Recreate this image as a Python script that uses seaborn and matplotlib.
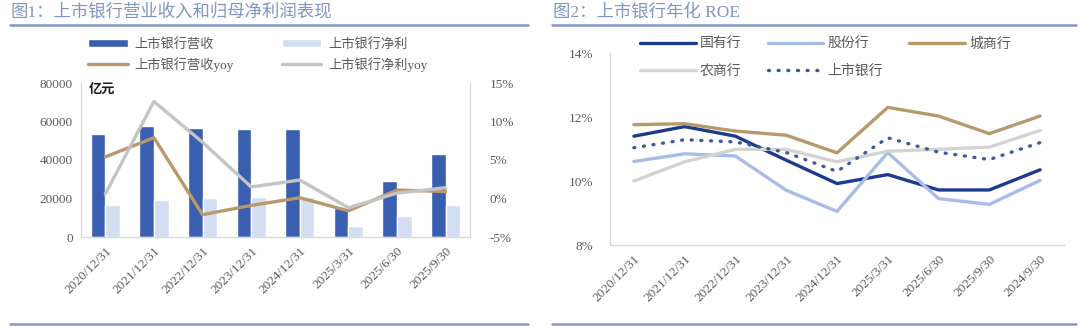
import numpy as np
import pandas as pd
import matplotlib
matplotlib.use("Agg")
import matplotlib.pyplot as plt
from matplotlib.lines import Line2D
import seaborn as sns

# ---------------- data ----------------
dates1 = ["2020/12/31", "2021/12/31", "2022/12/31", "2023/12/31", "2024/12/31",
          "2025/3/31", "2025/6/30", "2025/9/30"]
revenue = [53400, 57700, 56800, 56300, 56300, 14900, 29100, 43000]       # 亿元
net_profit = [16600, 19200, 20500, 20900, 20900, 5500, 11000, 16600]     # 亿元
revenue_yoy = [5.4, 7.9, -2.1, -0.9, 0.1, -1.6, 1.1, 0.9]                # %
profit_yoy = [0.6, 12.6, 7.3, 1.5, 2.4, -1.2, 0.7, 1.4]                  # %

dates2 = ["2020/12/31", "2021/12/31", "2022/12/31", "2023/12/31", "2024/12/31",
          "2025/3/31", "2025/6/30", "2025/9/30", "2024/9/30"]
roe_state = [11.40, 11.70, 11.40, 10.65, 9.92, 10.20, 9.72, 9.72, 10.35]
roe_joint = [10.61, 10.85, 10.78, 9.71, 9.05, 10.89, 9.45, 9.27, 10.02]
roe_city = [11.76, 11.79, 11.56, 11.43, 10.88, 12.30, 12.03, 11.48, 12.03]
roe_rural = [10.00, 10.60, 10.99, 10.99, 10.60, 10.93, 10.99, 11.06, 11.58]
roe_listed = [11.04, 11.29, 11.22, 10.89, 10.30, 11.35, 10.90, 10.67, 11.20]

# ---------------- style ----------------
sns.set_theme(style="white")
plt.rcParams["font.family"] = ["Liberation Serif", "Noto Sans CJK SC", "DejaVu Sans"]
plt.rcParams["axes.unicode_minus"] = False

TICK_C = "#595959"
SPINE_C = "#d9d9d9"
TITLE_C = "#8194c4"
RULE_C = "#8597c8"

fig = plt.figure(figsize=(10.8, 3.29), dpi=100)
W, H = 1080, 329

def fx(px):
    return px / W

def fy(py):
    return 1 - py / H

# ---------------- chart 1 ----------------
ax1 = fig.add_axes([fx(81), fy(237), fx(470) - fx(81), fy(83) - fy(237)])
df1 = pd.DataFrame({
    "date": dates1 * 2,
    "value": revenue + net_profit,
    "series": ["上市银行营收"] * len(dates1) + ["上市银行净利"] * len(dates1),
})
sns.barplot(data=df1, x="date", y="value", hue="series", order=dates1,
            palette=["#3a5fb0", "#d3def2"], width=0.6, saturation=1,
            ax=ax1, legend=True)
ax1.set_ylim(0, 80000)
ax1.set_yticks([0, 20000, 40000, 60000, 80000])
ax1.set_xlim(-0.5, len(dates1) - 0.5)
ax1.set_xlabel("")
ax1.set_ylabel("")

ax1b = ax1.twinx()
xpos1 = np.arange(len(dates1))
sns.lineplot(x=xpos1, y=revenue_yoy, color="#b8996b", lw=2.4, ax=ax1b,
             label="上市银行营收yoy")
sns.lineplot(x=xpos1, y=profit_yoy, color="#c4c4c4", lw=2.4, ax=ax1b,
             label="上市银行净利yoy")
ax1b.set_ylim(-5, 15)
ax1b.set_yticks([-5, 0, 5, 10, 15])
ax1b.set_yticklabels([f"{v}%" for v in [-5, 0, 5, 10, 15]])
ax1b.set_xlim(-0.5, len(dates1) - 0.5)

h1, l1 = ax1.get_legend_handles_labels()
h2, l2 = ax1b.get_legend_handles_labels()
ax1.get_legend().remove()
ax1b.get_legend().remove()
hd = dict(zip(l1 + l2, h1 + h2))
order1 = ["上市银行营收", "上市银行营收yoy", "上市银行净利", "上市银行净利yoy"]
fig.legend([hd[k] for k in order1], order1, ncol=2, frameon=False,
           loc="upper left", bbox_to_anchor=(fx(88), fy(38)),
           prop={"size": 9.5}, labelcolor=TICK_C, handlelength=3.0,
           handleheight=0.5, handletextpad=0.55, columnspacing=3.6,
           labelspacing=0.45, borderpad=0, borderaxespad=0)

ax1.set_xticks(xpos1)
ax1.set_xticklabels(dates1, rotation=45, ha="right", rotation_mode="anchor")
for a in (ax1, ax1b):
    for s in a.spines.values():
        s.set_visible(False)
    a.tick_params(axis="both", length=0, colors=TICK_C, labelsize=9.5)
    a.grid(False)
for side in ("left", "right", "bottom"):
    ax1b.spines[side].set_visible(True)
    ax1b.spines[side].set_color(SPINE_C)
    ax1b.spines[side].set_linewidth(1)
ax1.tick_params(axis="x", pad=6)
ax1.tick_params(axis="y", pad=6)
ax1b.tick_params(axis="y", pad=14)
ax1.text(0.02, 0.995, "亿元", transform=ax1.transAxes, va="top", ha="left",
         fontsize=9.5, fontweight="bold", color="#1a1a1a")

# ---------------- chart 2 ----------------
ax2 = fig.add_axes([fx(610), fy(245), fx(1064) - fx(610), fy(53) - fy(245)])
xpos2 = np.arange(len(dates2))
series2 = [
    ("国有行", roe_state, "#1c3a8e", "-"),
    ("股份行", roe_joint, "#a8bce6", "-"),
    ("城商行", roe_city, "#b8996b", "-"),
    ("农商行", roe_rural, "#d3d3d3", "-"),
    ("上市银行", roe_listed, "#3b5a9c", (0, (0.3, 2.6))),
]
for name, vals, col, ls in series2:
    sns.lineplot(x=xpos2, y=vals, color=col, lw=2.4, linestyle=ls,
                 dash_capstyle="round", ax=ax2, label=name)
ax2.set_ylim(8, 14)
ax2.set_yticks([8, 10, 12, 14])
ax2.set_yticklabels([f"{v}%" for v in [8, 10, 12, 14]])
ax2.set_xlim(-0.47, len(dates2) - 0.53)
ax2.set_xticks(xpos2)
ax2.set_xticklabels(dates2, rotation=45, ha="right", rotation_mode="anchor")
for s in ax2.spines.values():
    s.set_visible(False)
for side in ("left", "bottom"):
    ax2.spines[side].set_visible(True)
    ax2.spines[side].set_color(SPINE_C)
    ax2.spines[side].set_linewidth(1)
ax2.tick_params(axis="both", length=0, colors=TICK_C, labelsize=9.5)
ax2.tick_params(axis="x", pad=6)
ax2.tick_params(axis="y", pad=12)
ax2.grid(False)
h, l = ax2.get_legend_handles_labels()
ax2.get_legend().remove()
hd2 = dict(zip(l, h))
order2 = ["国有行", "农商行", "股份行", "上市银行", "城商行"]
fig.legend([hd2[k] for k in order2], order2, ncol=3, frameon=False,
           loc="upper left", bbox_to_anchor=(fx(640), fy(37)),
           prop={"size": 10}, labelcolor=TICK_C, handlelength=4.0,
           handletextpad=0.3, columnspacing=1.9, labelspacing=1.05,
           borderpad=0, borderaxespad=0)

# ---------------- titles & rules ----------------
fig.text(fx(10), fy(12), "图1：上市银行营业收入和归母净利润表现", fontsize=12.5,
         color=TITLE_C, va="center", ha="left")
fig.text(fx(553), fy(12), "图2：上市银行年化 ROE", fontsize=12.5,
         color=TITLE_C, va="center", ha="left")
for x0, x1 in ((10, 528), (552, 1076)):
    for yy in (25, 324):
        fig.add_artist(Line2D([fx(x0), fx(x1)], [fy(yy), fy(yy)],
                              transform=fig.transFigure, color=RULE_C, lw=1.8))

fig.savefig("out.png", dpi=100)
